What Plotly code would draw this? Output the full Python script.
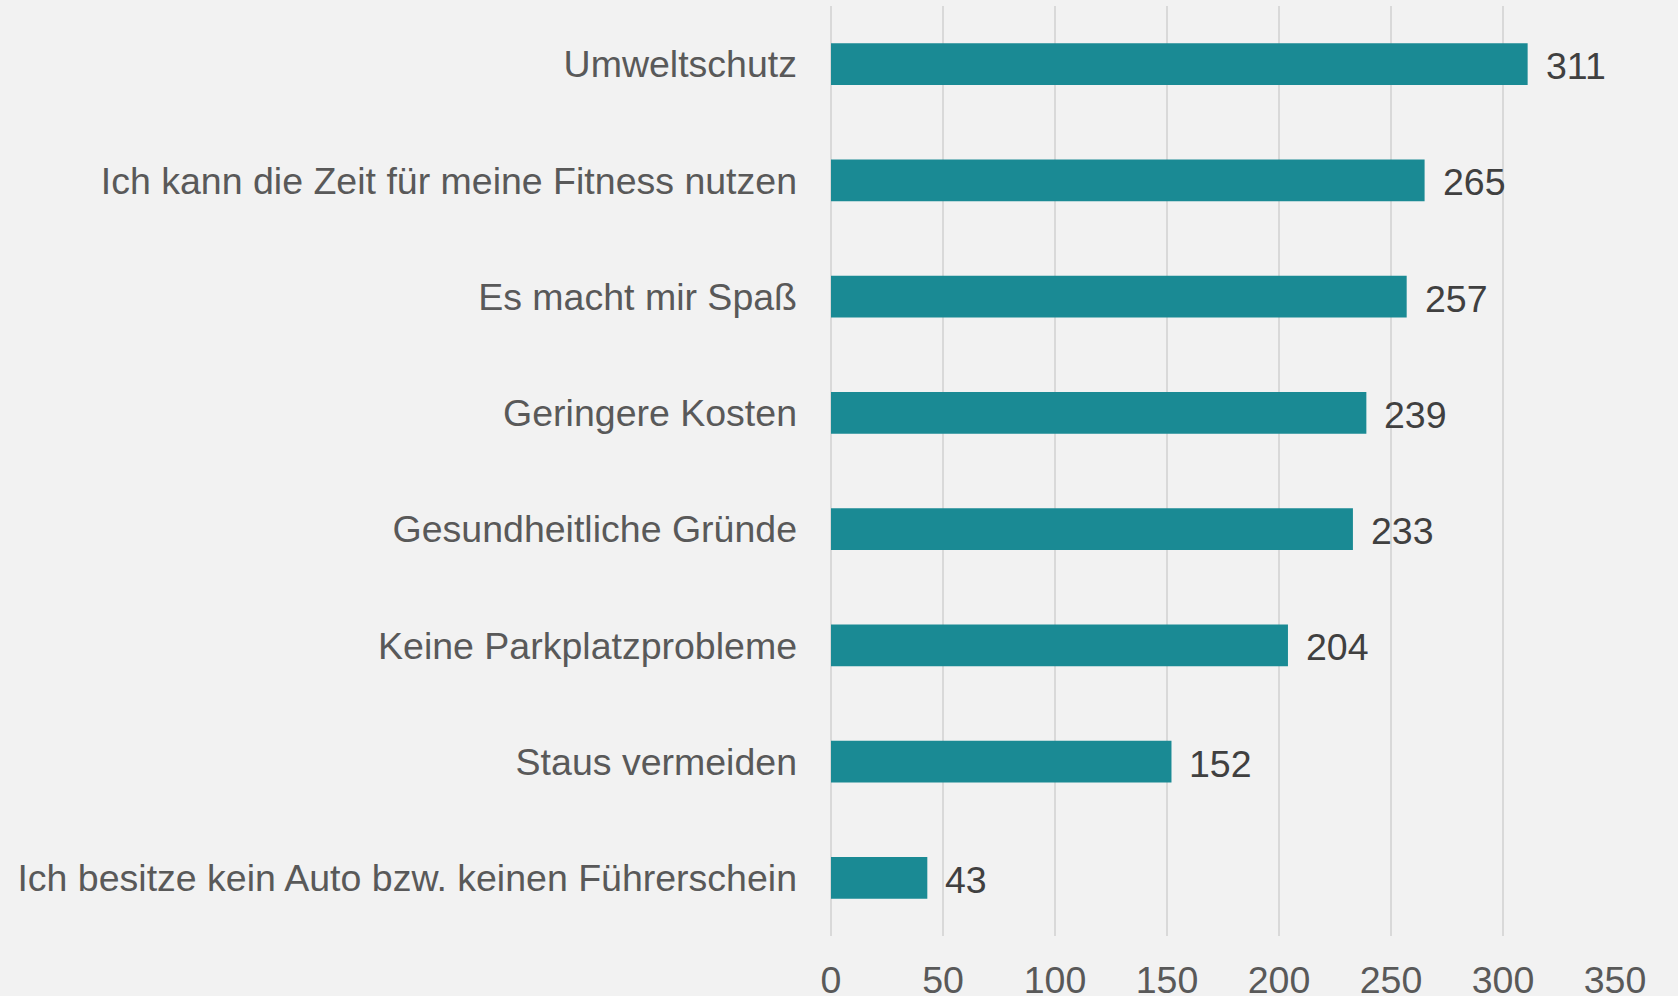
import plotly.graph_objects as go

categories = [
    "Umweltschutz",
    "Ich kann die Zeit für meine Fitness nutzen",
    "Es macht mir Spaß",
    "Geringere Kosten",
    "Gesundheitliche Gründe",
    "Keine Parkplatzprobleme",
    "Staus vermeiden",
    "Ich besitze kein Auto bzw. keinen Führerschein",
]
values = [311, 265, 257, 239, 233, 204, 152, 43]
x_ticks = [0, 50, 100, 150, 200, 250, 300, 350]

BAR = "#1A8A94"
BG = "#F2F2F2"
FONT = "Liberation Sans, Arial, sans-serif"
FS = 37.5

fig = go.Figure(go.Bar(
    x=values, y=categories, orientation="h",
    marker=dict(color=BAR, line=dict(width=0)),
    hoverinfo="skip",
))

for c, v in zip(categories, values):
    fig.add_annotation(x=v, y=c, text=str(v), showarrow=False,
                       xanchor="left", yanchor="middle", xshift=16, yshift=-2,
                       font=dict(family=FONT, size=FS, color="#404040"))

fig.update_layout(
    width=1678, height=996,
    paper_bgcolor=BG, plot_bgcolor=BG,
    margin=dict(l=831, r=63, t=6, b=60),
    bargap=0.64,
    showlegend=False,
    font=dict(family=FONT, size=FS, color="#595959"),
)
fig.update_xaxes(
    range=[0, 350], tickvals=x_ticks, ticktext=[str(t) for t in x_ticks],
    showgrid=True, gridcolor="#D9D9D9", gridwidth=1.5,
    zeroline=True, zerolinecolor="#D9D9D9", zerolinewidth=1.5,
    showline=False, ticks="", ticklabelstandoff=18, automargin=False,
    tickfont=dict(family=FONT, size=FS, color="#595959"),
)
fig.update_yaxes(
    autorange="reversed", showgrid=False, zeroline=False, showline=False,
    ticks="", ticklabelstandoff=33, automargin=False,
    tickfont=dict(family=FONT, size=FS, color="#595959"),
)

fig.write_html(
    "out.html",
    config={"displayModeBar": False},
    post_script="document.body.style.margin='0';document.body.style.background='#F2F2F2';",
)
